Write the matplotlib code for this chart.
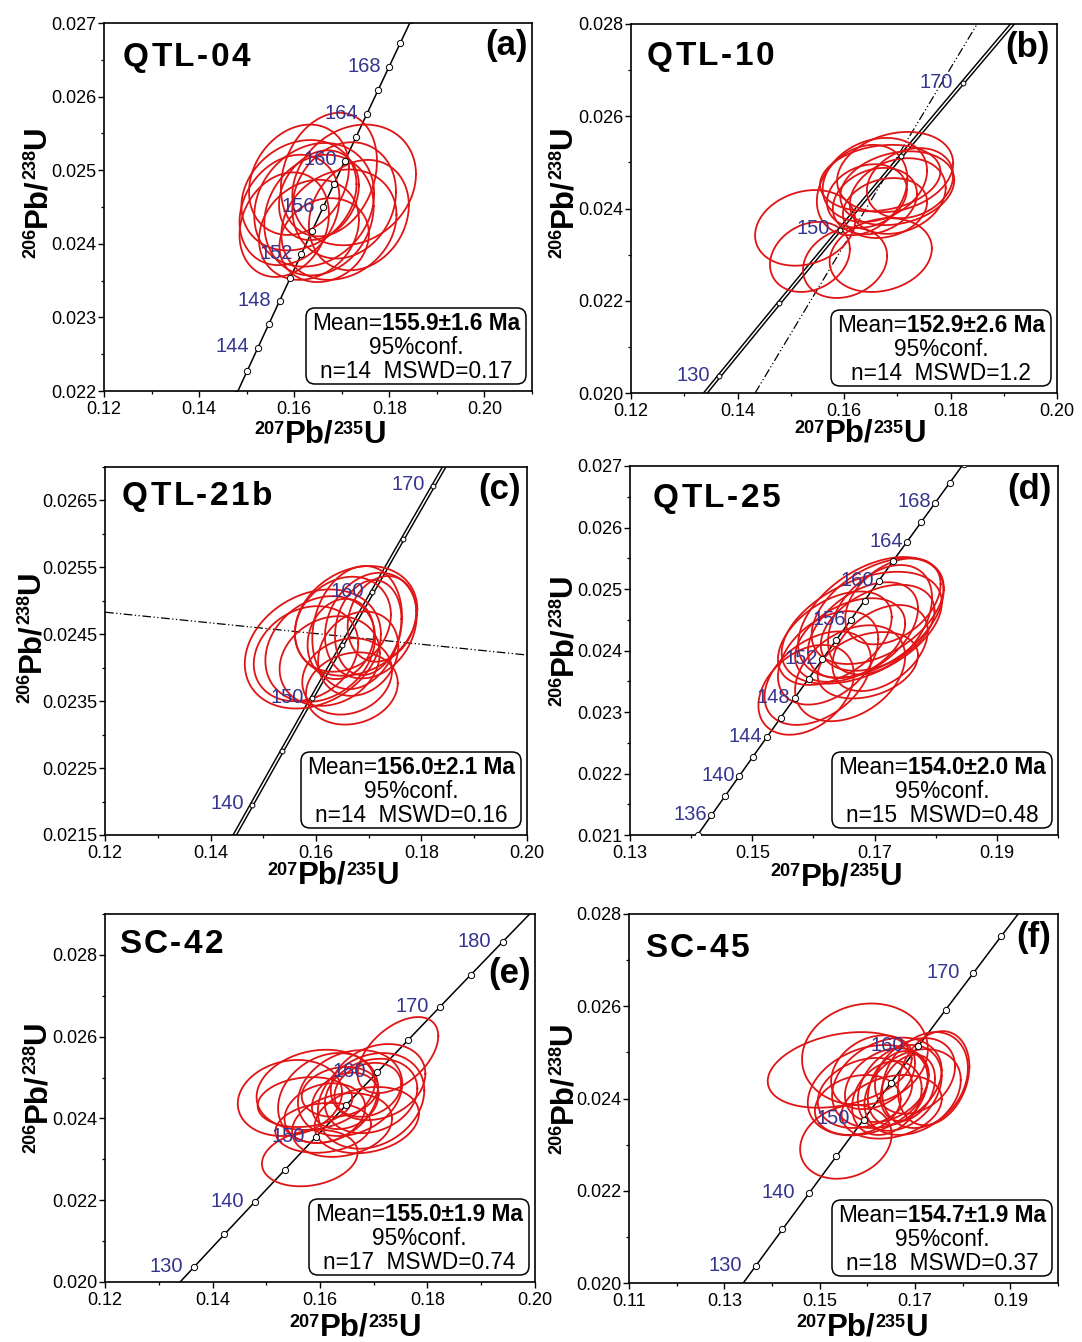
import numpy as np
import matplotlib
matplotlib.use("Agg")
import matplotlib.pyplot as plt
from matplotlib.patches import FancyBboxPatch
from matplotlib.transforms import IdentityTransform
from matplotlib.ticker import FormatStrFormatter

plt.rcParams["font.family"] = ["Liberation Sans", "DejaVu Sans"]

# ---------------- data ----------------
L238 = 1.55125e-4   # decay constants, 1/Ma
L235 = 9.8485e-4

samples = ["QTL-04", "QTL-10", "QTL-21b", "QTL-25", "SC-42", "SC-45"]
tags = ["(a)", "(b)", "(c)", "(d)", "(e)", "(f)"]
mean_ages = ["155.9±1.6 Ma", "152.9±2.6 Ma", "156.0±2.1 Ma",
             "154.0±2.0 Ma", "155.0±1.9 Ma", "154.7±1.9 Ma"]
n_spots = [14, 14, 14, 15, 17, 18]
mswd = ["0.17", "1.2", "0.16", "0.48", "0.74", "0.37"]

# concordia age marks / labels (Ma)
a_marks = [140, 142, 144, 146, 148, 150, 152, 154, 156, 158, 160, 162, 164, 166, 168, 170, 172]
a_labels = [144, 148, 152, 156, 160, 164, 168]
b_marks = [120, 130, 140, 150, 160, 170, 180]
b_labels = [130, 150, 170]
c_marks = [135, 140, 145, 150, 155, 160, 165, 170, 175]
c_labels = [140, 150, 160, 170]
d_marks = [134, 136, 138, 140, 142, 144, 146, 148, 150, 152, 154, 156, 158, 160, 162, 164, 166, 168, 170, 172]
d_labels = [136, 140, 144, 148, 152, 156, 160, 164, 168]
e_marks = [125, 130, 135, 140, 145, 150, 155, 160, 165, 170, 175, 180, 185]
e_labels = [130, 140, 150, 160, 170, 180]
f_marks = [125, 130, 135, 140, 145, 150, 155, 160, 165, 170, 175, 180]
f_labels = [130, 140, 150, 160, 170]

# discordia (dash-dot) lines
b_disc_x = [0.1433, 0.1850]
b_disc_y = [0.0200, 0.0280]
c_disc_x = [0.12, 0.20]
c_disc_y = [0.02483, 0.02419]

# error ellipses: 207/235 centre, 206/238 centre, half-extents, correlation
a_x = [0.1673, 0.1726, 0.1610, 0.1652, 0.1590, 0.1694, 0.1631, 0.1610, 0.1705, 0.1663, 0.1652, 0.1579, 0.1736, 0.1642]
a_y = [0.02494, 0.02480, 0.02466, 0.02439, 0.02446, 0.02426, 0.02419, 0.02487, 0.02459, 0.02405, 0.02466, 0.02426, 0.02439, 0.02453]
a_sx = [0.0101, 0.0130, 0.0121, 0.0115, 0.0105, 0.0121, 0.0105, 0.0105, 0.0109, 0.0094, 0.0084, 0.0094, 0.0105, 0.0126]
a_sy = [0.00084, 0.00082, 0.00075, 0.00082, 0.00075, 0.00075, 0.00068, 0.00075, 0.00079, 0.00057, 0.00061, 0.00071, 0.00075, 0.00084]
a_rho = [0.22, 0.18, 0.20, 0.15, 0.22, 0.18, 0.20, 0.22, 0.15, 0.15, 0.22, 0.20, 0.18, 0.18]

b_x = [0.1527, 0.1536, 0.1602, 0.1669, 0.1696, 0.1634, 0.1700, 0.1658, 0.1701, 0.1643, 0.1658, 0.1668, 0.1677, 0.1724]
b_y = [0.02358, 0.02295, 0.02282, 0.02299, 0.02479, 0.02440, 0.02444, 0.02462, 0.02427, 0.02427, 0.02416, 0.02466, 0.02401, 0.02455]
b_sx = [0.0094, 0.0075, 0.0079, 0.0096, 0.0109, 0.0085, 0.0107, 0.0098, 0.0090, 0.0075, 0.0079, 0.0113, 0.0079, 0.0081]
b_sy = [0.00082, 0.00076, 0.00076, 0.00080, 0.00087, 0.00098, 0.00080, 0.00091, 0.00082, 0.00069, 0.00072, 0.00072, 0.00065, 0.00076]
b_rho = [0.20, 0.22, 0.20, 0.18, 0.22, 0.25, 0.22, 0.22, 0.22, 0.20, 0.22, 0.20, 0.20, 0.22]

c_x = [0.1594, 0.1608, 0.1668, 0.1676, 0.1678, 0.1704, 0.1699, 0.1651, 0.1647, 0.1680, 0.1659, 0.1581, 0.1725, 0.1626]
c_y = [0.02428, 0.02428, 0.02369, 0.02470, 0.02460, 0.02463, 0.02460, 0.02465, 0.02443, 0.02421, 0.02387, 0.02421, 0.02473, 0.02410]
c_sx = [0.0129, 0.0104, 0.0087, 0.0116, 0.0085, 0.0087, 0.0063, 0.0091, 0.0063, 0.0076, 0.0085, 0.0099, 0.0065, 0.0095]
c_sy = [0.00089, 0.00079, 0.00054, 0.00082, 0.00092, 0.00079, 0.00071, 0.00071, 0.00060, 0.00063, 0.00057, 0.00071, 0.00064, 0.00067]
c_rho = [0.25, 0.22, 0.15, 0.22, 0.18, 0.20, 0.18, 0.20, 0.15, 0.18, 0.15, 0.22, 0.18, 0.18]

d_x = [0.1694, 0.1679, 0.1705, 0.1709, 0.1681, 0.1730, 0.1635, 0.1705, 0.1660, 0.1588, 0.1607, 0.1660, 0.1689, 0.1624, 0.1709]
d_y = [0.02454, 0.02437, 0.02464, 0.02450, 0.02433, 0.02480, 0.02420, 0.02437, 0.02417, 0.02336, 0.02355, 0.02363, 0.02376, 0.02388, 0.02404]
d_sx = [0.0119, 0.0131, 0.0108, 0.0085, 0.0090, 0.0078, 0.0093, 0.0093, 0.0090, 0.0078, 0.0087, 0.0090, 0.0082, 0.0082, 0.0078]
d_sy = [0.00098, 0.00091, 0.00086, 0.00089, 0.00078, 0.00070, 0.00076, 0.00070, 0.00068, 0.00073, 0.00076, 0.00078, 0.00054, 0.00076, 0.00070]
d_rho = [0.45, 0.45, 0.45, 0.40, 0.45, 0.40, 0.45, 0.40, 0.40, 0.35, 0.40, 0.35, 0.30, 0.40, 0.40]

e_x = [0.1745, 0.1581, 0.1544, 0.1592, 0.1615, 0.1656, 0.1695, 0.1695, 0.1647, 0.1609, 0.1689, 0.1572, 0.1641, 0.1687, 0.1708, 0.1637, 0.1606]
e_y = [0.02555, 0.02303, 0.02450, 0.02470, 0.02450, 0.02462, 0.02443, 0.02455, 0.02443, 0.02413, 0.02470, 0.02440, 0.02384, 0.02396, 0.02489, 0.02465, 0.02377]
e_sx = [0.0075, 0.0089, 0.0097, 0.0110, 0.0093, 0.0097, 0.0099, 0.0086, 0.0062, 0.0075, 0.0062, 0.0088, 0.0093, 0.0097, 0.0088, 0.0071, 0.0089]
e_sy = [0.00093, 0.00069, 0.00093, 0.00098, 0.00110, 0.00105, 0.00117, 0.00091, 0.00069, 0.00073, 0.00066, 0.00061, 0.00078, 0.00081, 0.00093, 0.00061, 0.00061]
e_rho = [0.50, 0.20, 0.15, 0.18, 0.22, 0.22, 0.22, 0.20, 0.22, 0.20, 0.22, 0.15, 0.20, 0.20, 0.22, 0.18, 0.15]

f_x = [0.1595, 0.1542, 0.1555, 0.1739, 0.1721, 0.1601, 0.1641, 0.1641, 0.1668, 0.1595, 0.1664, 0.1641, 0.1695, 0.1580, 0.1700, 0.1651, 0.1685, 0.1612]
f_y = [0.02496, 0.02462, 0.02306, 0.02444, 0.02440, 0.02418, 0.02434, 0.02429, 0.02423, 0.02412, 0.02423, 0.02401, 0.02414, 0.02386, 0.02449, 0.02382, 0.02423, 0.02457]
f_sx = [0.0132, 0.0151, 0.0096, 0.0075, 0.0090, 0.0126, 0.0115, 0.0088, 0.0088, 0.0099, 0.0063, 0.0073, 0.0101, 0.0090, 0.0084, 0.0105, 0.0057, 0.0088]
f_sy = [0.00110, 0.00082, 0.00080, 0.00102, 0.00104, 0.00098, 0.00098, 0.00080, 0.00093, 0.00076, 0.00080, 0.00080, 0.00093, 0.00065, 0.00082, 0.00069, 0.00072, 0.00080]
f_rho = [0.10, 0.30, 0.20, 0.25, 0.25, 0.28, 0.28, 0.28, 0.28, 0.25, 0.28, 0.25, 0.28, 0.20, 0.25, 0.25, 0.28, 0.25]

# ---------------- layout ----------------
W, H = 1082, 1342
RED = "#e01414"
NAVY = "#35358f"

panels = [
    dict(box=(104, 23, 532, 391), xlim=(0.12, 0.21), xmaj=[0.12, 0.14, 0.16, 0.18, 0.20],
         xmin=[0.13, 0.15, 0.17, 0.19, 0.21], ylim=(0.022, 0.027),
         ymaj=[0.022, 0.023, 0.024, 0.025, 0.026, 0.027],
         ymin=[0.0225, 0.0235, 0.0245, 0.0255, 0.0265], yfmt="%.3f",
         ell=(a_x, a_y, a_sx, a_sy, a_rho), marks=a_marks, labels=a_labels, loff=-6,
         double=False, disc=None, name=(123, 66), tag=(528, 46), ylab=(45, 192), xlab=(320, 443)),
    dict(box=(631, 24, 1057, 393), xlim=(0.12, 0.20), xmaj=[0.12, 0.14, 0.16, 0.18, 0.20],
         xmin=[0.13, 0.15, 0.17, 0.19], ylim=(0.020, 0.028),
         ymaj=[0.020, 0.022, 0.024, 0.026, 0.028], ymin=[0.021, 0.023, 0.025, 0.027], yfmt="%.3f",
         ell=(b_x, b_y, b_sx, b_sy, b_rho), marks=b_marks, labels=b_labels, loff=-7,
         double=True, disc=(b_disc_x, b_disc_y), name=(647, 65), tag=(1050, 47), ylab=(571, 192), xlab=(860, 442)),
    dict(box=(105, 467, 527, 835), xlim=(0.12, 0.20), xmaj=[0.12, 0.14, 0.16, 0.18, 0.20],
         xmin=[0.13, 0.15, 0.17, 0.19], ylim=(0.0215, 0.027),
         ymaj=[0.0215, 0.0225, 0.0235, 0.0245, 0.0255, 0.0265],
         ymin=[0.022, 0.023, 0.024, 0.025, 0.026, 0.027], yfmt="%.4f",
         ell=(c_x, c_y, c_sx, c_sy, c_rho), marks=c_marks, labels=c_labels, loff=-6,
         double=True, disc=(c_disc_x, c_disc_y), name=(122, 505), tag=(521, 490), ylab=(39, 637), xlab=(333, 884)),
    dict(box=(630, 466, 1058, 835), xlim=(0.13, 0.20), xmaj=[0.13, 0.15, 0.17, 0.19],
         xmin=[0.14, 0.16, 0.18, 0.20], ylim=(0.021, 0.027),
         ymaj=[0.021, 0.022, 0.023, 0.024, 0.025, 0.026, 0.027],
         ymin=[0.0215, 0.0225, 0.0235, 0.0245, 0.0255, 0.0265], yfmt="%.3f",
         ell=(d_x, d_y, d_sx, d_sy, d_rho), marks=d_marks, labels=d_labels, loff=-3,
         double=False, disc=None, name=(653, 507), tag=(1052, 490), ylab=(571, 640), xlab=(836, 885)),
    dict(box=(105, 914, 535, 1282), xlim=(0.12, 0.20), xmaj=[0.12, 0.14, 0.16, 0.18, 0.20],
         xmin=[0.13, 0.15, 0.17, 0.19], ylim=(0.020, 0.029),
         ymaj=[0.020, 0.022, 0.024, 0.026, 0.028], ymin=[0.021, 0.023, 0.025, 0.027, 0.029], yfmt="%.3f",
         ell=(e_x, e_y, e_sx, e_sy, e_rho), marks=e_marks, labels=e_labels, loff=-8,
         double=False, disc=None, name=(119, 953), tag=(531, 974), ylab=(45, 1087), xlab=(355, 1336)),
    dict(box=(629, 914, 1058, 1283), xlim=(0.11, 0.20), xmaj=[0.11, 0.13, 0.15, 0.17, 0.19],
         xmin=[0.12, 0.14, 0.16, 0.18, 0.20], ylim=(0.020, 0.028),
         ymaj=[0.020, 0.022, 0.024, 0.026, 0.028], ymin=[0.021, 0.023, 0.025, 0.027], yfmt="%.3f",
         ell=(f_x, f_y, f_sx, f_sy, f_rho), marks=f_marks, labels=f_labels, loff=-10,
         double=False, disc=None, name=(645, 957), tag=(1051, 938), ylab=(571, 1088), xlab=(862, 1336)),
]

fig = plt.figure(figsize=(W / 100, H / 100), dpi=100)
renderer = fig.canvas.get_renderer()


def fx(px):
    return px / W


def fy(py):
    return 1 - py / H


def concordia(t):
    t = np.asarray(t, dtype=float)
    return np.exp(L235 * t) - 1, np.exp(L238 * t) - 1


def spaced_text(x_px, y_px, s, fs, gap):
    # bold sample name with a little letter spacing
    x = x_px
    for ch in s:
        t = fig.text(fx(x), fy(y_px), ch, fontsize=fs, fontweight="bold",
                     ha="left", va="baseline")
        x += t.get_window_extent(renderer).width + gap


def isotope_label(cx_px, base_px, m1, el, m2, el2, vertical=False, big=22.5, small=13):
    # bold ratio label with small raised mass numbers, e.g. 206Pb/238U
    parts = [(m1, small), (el, big), (m2, small), (el2, big)]
    raise_px = (big - small) * 1.389 * 0.716
    texts, widths = [], []
    for s, size in parts:
        t = fig.text(0, 0, s, fontsize=size, fontweight="bold", ha="left",
                     va="baseline", rotation_mode="anchor")
        texts.append(t)
        widths.append(t.get_window_extent(renderer).width)
    total = sum(widths)
    pos = -total / 2
    for (s, size), t, w in zip(parts, texts, widths):
        dz = raise_px if size == small else 0
        if vertical:
            t.set_rotation(90)
            t.set_position((fx(cx_px - dz), fy(base_px - pos)))
        else:
            t.set_position((fx(cx_px + pos), fy(base_px - dz)))
        pos += w


tt = np.linspace(100, 200, 400)
phi = np.linspace(0, 2 * np.pi, 200)

for i, p in enumerate(panels):
    l, t, r, b = p["box"]
    ax = fig.add_axes([fx(l), fy(b), (r - l) / W, (b - t) / H])
    ax.set_xlim(*p["xlim"])
    ax.set_ylim(*p["ylim"])
    ax.set_xticks(p["xmaj"])
    ax.set_xticks(p["xmin"], minor=True)
    ax.set_yticks(p["ymaj"])
    ax.set_yticks(p["ymin"], minor=True)
    ax.xaxis.set_major_formatter(FormatStrFormatter("%.2f"))
    ax.yaxis.set_major_formatter(FormatStrFormatter(p["yfmt"]))
    ax.tick_params(which="major", direction="out", length=4, width=1, labelsize=13)
    ax.tick_params(which="minor", direction="out", length=2.5, width=0.9)
    ax.tick_params(axis="x", pad=3)
    ax.tick_params(axis="y", pad=1.5)
    for s in ax.spines.values():
        s.set_linewidth(1.2)

    # concordia
    cx, cy = concordia(tt)
    if p["double"]:
        ax.plot(cx, cy, color="k", lw=3.2, zorder=2)
        ax.plot(cx, cy, color="white", lw=1.1, zorder=2.1)
        ms = 3.5
    else:
        ax.plot(cx, cy, color="k", lw=1.1, zorder=2)
        ms = 4.5
    if p["disc"] is not None:
        ax.plot(p["disc"][0], p["disc"][1], color="k", lw=0.9,
                dashes=(7, 2, 1, 2, 1, 2), zorder=2)

    # ellipses
    ex, ey, esx, esy, erho = p["ell"]
    for x0, y0, sx, sy, rho in zip(ex, ey, esx, esy, erho):
        xs = x0 + sx * np.cos(phi)
        ys = y0 + sy * (rho * np.cos(phi) + np.sqrt(1 - rho ** 2) * np.sin(phi))
        ax.plot(xs, ys, color=RED, lw=1.3, zorder=3)

    mx, my = concordia(p["marks"])
    ax.plot(mx, my, "o", ms=ms, mfc="white", mec="k", mew=0.7, zorder=4)
    lx, ly = concordia(p["labels"])
    for age, x0, y0 in zip(p["labels"], lx, ly):
        ax.annotate(str(age), (x0, y0), xytext=(p["loff"], 0.5), textcoords="offset points",
                    ha="right", va="center", fontsize=14.5, color=NAVY, zorder=5,
                    annotation_clip=True)

    # titles and axis labels
    spaced_text(p["name"][0], p["name"][1], samples[i], 24, 2.5)
    fig.text(fx(p["tag"][0]), fy(p["tag"][1]), tags[i], fontsize=25,
             fontweight="bold", ha="right", va="center")
    isotope_label(p["ylab"][0], p["ylab"][1], "206", "Pb/", "238", "U", vertical=True)
    isotope_label(p["xlab"][0], p["xlab"][1], "207", "Pb/", "235", "U")

    # result box
    bw, bh = 220, 76
    bx0 = r - 6 - bw
    by0 = b - 7 - bh
    box = FancyBboxPatch((bx0, H - (by0 + bh)), bw, bh,
                         boxstyle="round,pad=0,rounding_size=9",
                         transform=IdentityTransform(), facecolor="white",
                         edgecolor="k", lw=1.1, zorder=6, clip_on=False)
    ax.add_patch(box)
    cxp = bx0 + bw / 2
    fs = 16.3
    t1 = fig.text(0, 0, "Mean=", fontsize=fs, ha="left", va="center_baseline", zorder=7)
    t2 = fig.text(0, 0, mean_ages[i], fontsize=fs, fontweight="bold",
                  ha="left", va="center_baseline", zorder=7)
    w1 = t1.get_window_extent(renderer).width
    w2 = t2.get_window_extent(renderer).width
    xs0 = cxp - (w1 + w2) / 2
    t1.set_position((fx(xs0), fy(by0 + 13)))
    t2.set_position((fx(xs0 + w1), fy(by0 + 13)))
    fig.text(fx(cxp), fy(by0 + 37), "95%conf.", fontsize=fs, ha="center",
             va="center_baseline", zorder=7)
    fig.text(fx(cxp), fy(by0 + 61), f"n={n_spots[i]}  MSWD={mswd[i]}", fontsize=fs,
             ha="center", va="center_baseline", zorder=7)

fig.savefig("out.png", dpi=100, facecolor="white")
